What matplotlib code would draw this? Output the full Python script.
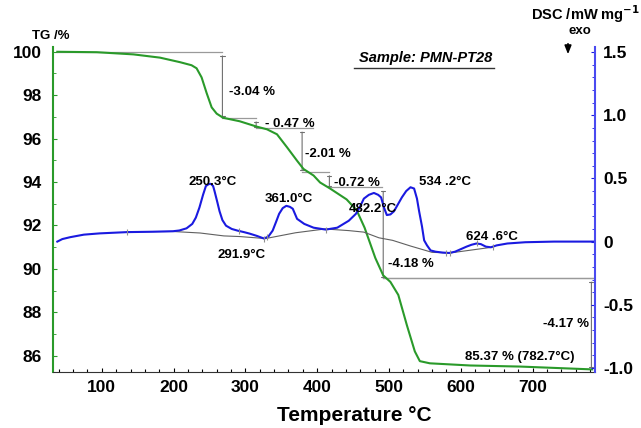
import numpy as np
import matplotlib
matplotlib.use('Agg')
import matplotlib.pyplot as plt
from matplotlib.ticker import MultipleLocator

plt.rcParams['font.family'] = ['Liberation Sans', 'DejaVu Sans']
plt.rcParams['font.weight'] = 'bold'

# TG curve: temperature (degC) / residual mass (%)
tg_temp = [38, 93, 144, 181, 209, 225, 232, 239, 246, 253, 260, 269, 292, 316, 330,
           344, 358, 372, 381, 395, 404, 418, 441, 455, 466, 481, 492, 502, 513,
           525, 536, 543, 557, 613, 683, 783]
tg_mass = [100.0, 99.98, 99.88, 99.73, 99.52, 99.38, 99.24, 98.82, 98.1, 97.44, 97.15,
           96.96, 96.8, 96.55, 96.43, 96.2, 95.6, 94.98, 94.6, 94.3, 93.98, 93.7,
           93.2, 92.7, 91.9, 90.5, 89.7, 89.4, 88.8, 87.4, 86.2, 85.75, 85.65,
           85.55, 85.5, 85.37]

# DSC curve: temperature (degC) / heat flow (mW/mg)
dsc_temp = [38, 45, 56, 75, 97, 135, 170, 199, 208, 218, 226, 231, 236, 241, 245,
            249, 252, 255, 257, 261, 264, 268, 273, 281, 289, 298, 306, 316, 326,
            332, 338, 343, 347, 352, 357, 362, 366, 372, 382, 395, 412, 428, 444,
            454, 460, 465, 472, 479, 485, 489, 493, 497, 502, 507, 512, 518, 524,
            530, 535, 539, 542, 546, 549, 553, 558, 565, 575, 584, 592, 600, 608,
            615, 622, 628, 635, 642, 650, 665, 690, 730, 787]
dsc_val = [0.0, 0.02, 0.035, 0.055, 0.065, 0.075, 0.078, 0.082, 0.088, 0.105,
           0.14, 0.19, 0.27, 0.37, 0.44, 0.455, 0.457, 0.44, 0.40, 0.31,
           0.24, 0.17, 0.126, 0.10, 0.087, 0.075, 0.063, 0.045, 0.024, 0.04,
           0.087, 0.16, 0.22, 0.265, 0.283, 0.275, 0.26, 0.18, 0.14, 0.11,
           0.095, 0.11, 0.165, 0.22, 0.28, 0.34, 0.37, 0.385, 0.37, 0.35,
           0.27, 0.21, 0.215, 0.24, 0.29, 0.35, 0.40, 0.43, 0.42, 0.34,
           0.24, 0.12, 0.01, -0.03, -0.07, -0.08, -0.087, -0.09, -0.08, -0.06,
           -0.04, -0.025, -0.015, -0.02, -0.04, -0.045, -0.03, -0.015, -0.005, 0.0,
           0.0]

# DSC baseline (thin grey)
base_temp = [135, 199, 237, 270, 292, 328, 370, 411, 444, 465, 486, 505, 530, 560, 585, 643]
base_val = [0.078, 0.08, 0.068, 0.045, 0.04, 0.024, 0.07, 0.1, 0.087, 0.075,
            0.03, 0.01, -0.035, -0.085, -0.09, -0.045]
tick_temp = [135, 291, 326, 330, 412, 580, 585, 622, 645]

# mass loss steps
losses = [3.04, 0.47, 2.01, 0.72, 4.18, 4.17]
step_temp = [268, 315, 379, 417, 492, 782]
h_start = [38, 268, 315, 379, 417, 492]
h_end = [268, 315, 394, 417, 490, 787]
levels = [100.0]
for l in losses:
    levels.append(round(levels[-1] - l, 2))

peaks = ['250.3°C', '361.0°C', '291.9°C', '482.2°C', '534 .2°C', '624 .6°C']
peak_pos = [(255, 0.47), (361, 0.337), (294, -0.106), (478, 0.258), (578, 0.47), (643, 0.036)]
loss_pos = [(277, 98.14), (328, 96.67), (383, 95.29), (424, 93.95), (499, 90.22), (715, 87.46)]
loss_txt = ['-3.04 %', '- 0.47 %', '-2.01 %', '-0.72 %', '-4.18 %', '-4.17 %']

green = '#2a9a2a'
blue = '#1a1ae0'
grey = '#9a9a9a'

fig = plt.figure(figsize=(6.41, 4.28), dpi=100)
ax = fig.add_axes([53/641, 56/428, 542/641, 325/428])
ax2 = ax.twinx()

# step lines
for i in range(len(losses)):
    ax.plot([h_start[i], h_end[i]], [levels[i], levels[i]], color=grey, lw=0.9)
ax.plot([h_start[-1], h_end[-1]], [levels[5], levels[5]], color=grey, lw=0.9)
for i in range(len(losses)):
    ax.annotate('', xy=(step_temp[i], levels[i+1]), xytext=(step_temp[i], levels[i]),
                arrowprops=dict(arrowstyle='|-|,widthA=0.15,widthB=0.15', color='#707070',
                                lw=0.8, shrinkA=3, shrinkB=1))

ax.plot(tg_temp, tg_mass, color=green, lw=1.5, zorder=5)
for t, (x, y) in zip(loss_txt, loss_pos):
    ax.text(x, y, t, fontsize=9.5, fontweight='bold', va='center', ha='left', zorder=6)
ax.text(606, 85.94, '85.37 % (782.7°C)', fontsize=9.5, fontweight='bold', va='center', ha='left')

ax2.plot(base_temp, base_val, color='#606060', lw=0.8)
ax2.plot(dsc_temp, dsc_val, color=blue, lw=1.5)
ax2.plot(tick_temp, np.interp(tick_temp, dsc_temp, dsc_val), ls='none', marker='|',
         ms=5, mew=0.8, color='#909090')
for t, (x, y) in zip(peaks, peak_pos):
    ax2.text(x, y, t, fontsize=9.5, fontweight='bold', ha='center', va='center')

ax.set_xlim(32, 787)
ax.set_ylim(85.25, 100.22)
ax2.set_ylim(-1.032, 1.54)

ax.xaxis.set_major_locator(MultipleLocator(100))
ax.xaxis.set_minor_locator(MultipleLocator(20))
ax.yaxis.set_major_locator(MultipleLocator(2))
ax.yaxis.set_minor_locator(MultipleLocator(1))
ax2.yaxis.set_minor_locator(MultipleLocator(0.1))
ax2.set_yticks([-1.0, -0.5, 0, 0.5, 1.0, 1.5])
ax2.set_yticklabels(['-1.0', '-0.5', '0', '0.5', '1.0', '1.5'])

for a in (ax, ax2):
    a.spines['top'].set_visible(False)
ax.spines['left'].set_color(green)
ax.spines['left'].set_linewidth(1.5)
ax2.spines['right'].set_color('#4a4af0')
ax2.spines['right'].set_linewidth(1.5)
ax2.spines['left'].set_visible(False)
ax.spines['right'].set_visible(False)
ax.spines['bottom'].set_color('#333333')
ax2.spines['bottom'].set_visible(False)

ax.tick_params(axis='x', direction='in', length=3, width=0.8, labelsize=12.5, pad=6)
ax.tick_params(axis='x', which='minor', direction='in', length=2, width=0.8)
ax.tick_params(axis='y', direction='in', length=3, color=green, labelsize=12.5, pad=8)
ax.tick_params(axis='y', which='minor', direction='in', length=2, color=green)
ax2.tick_params(axis='y', direction='in', length=3, color=blue, labelsize=12.5, pad=6)
ax2.tick_params(axis='y', which='minor', direction='in', length=2, color=blue)
for lab in ax.get_xticklabels() + ax.get_yticklabels() + ax2.get_yticklabels():
    lab.set_fontweight('bold')

fig.text(51/641, 1 - 36/428, 'TG /%', fontsize=9.5, fontweight='bold', ha='center', va='center')
fig.text(531/641, 1 - 14/428, r'DSC /mW mg$^{\mathbf{-1}}$', fontsize=10.5, fontweight='bold',
         ha='left', va='center')
fig.text(580/641, 1 - 31/428, 'exo', fontsize=9.5, fontweight='bold', ha='center', va='center')
fig.text(426/641, 1 - 58/428, 'Sample: PMN-PT28', fontsize=10.5, fontweight='bold',
         style='italic', ha='center', va='center')
fig.add_artist(plt.Line2D([354/641, 494/641], [1 - 68/428, 1 - 68/428], color='#333333', lw=1))
fig.text(354/641, 1 - 406/428, 'Temperature °C', fontsize=15, fontweight='bold',
         ha='center', va='top')
ax.annotate('', xy=(568/641, 1 - 57/428), xytext=(568/641, 1 - 41/428),
            xycoords='figure fraction',
            arrowprops=dict(arrowstyle='-|>,head_width=0.2,head_length=0.5', color='black', lw=1.2))

fig.savefig('out.png', dpi=100)
